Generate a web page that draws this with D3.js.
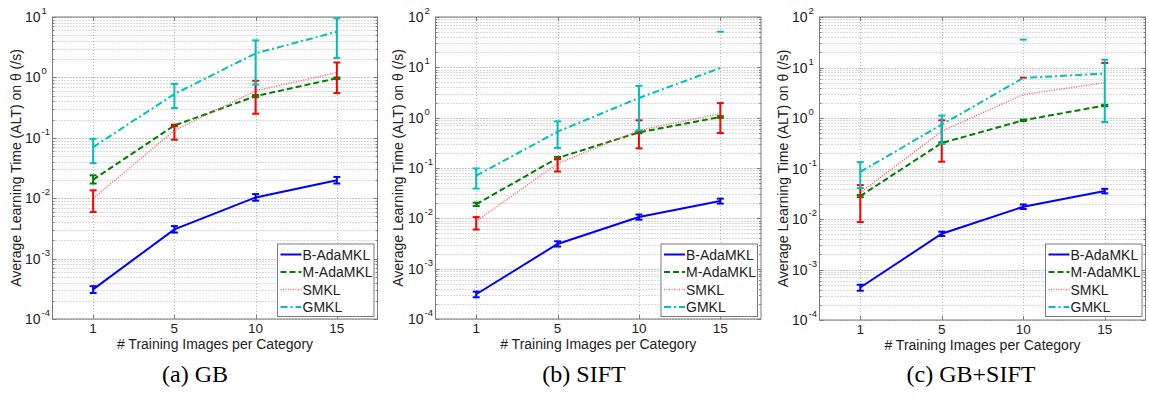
<!DOCTYPE html>
<html>
<head>
<meta charset="utf-8">
<script src="https://cdn.jsdelivr.net/npm/d3@7"></script>
<style>
  body { margin: 0; background: #fff; }
  svg text { font-family: "Liberation Sans", Arial, sans-serif; }
</style>
</head>
<body>
<div id="chart"></div>
<script>
//
// Average learning time per method, three feature sets
//
const categories = [1, 5, 10, 15]
const seriesNames = ["B-AdaMKL", "M-AdaMKL", "SMKL", "GMKL"]
const captions = ["(a) GB", "(b) SIFT", "(c) GB+SIFT"]

// (a) GB
const gbB = [3.1e-4, 3.05e-3, 0.0103, 0.0198]
const gbBLo = [2.7e-4, 2.7e-3, 0.0091, 0.0175]
const gbBHi = [3.5e-4, 3.45e-3, 0.0117, 0.0225]
const gbM = [0.0203, 0.16, 0.49, 0.97]
const gbMLo = [0.0175, 0.155, 0.47, 0.94]
const gbMHi = [0.0239, 0.165, 0.51, 1.0]
const gbS = [0.0099, 0.132, 0.6, 1.2]
const gbSLo = [0.0059, 0.093, 0.25, 0.55]
const gbSHi = [0.0135, 0.16, 0.88, 1.77]
const gbG = [0.07, 0.53, 2.5, 5.7]
const gbGLo = [0.038, 0.31, 0.76, 2.1]
const gbGHi = [0.096, 0.78, 4.1, 9.5]

// (b) SIFT
const siftB = [3.1e-4, 3.1e-3, 0.0106, 0.022]
const siftBLo = [2.7e-4, 2.75e-3, 0.0094, 0.0196]
const siftBHi = [3.5e-4, 3.5e-3, 0.0119, 0.0246]
const siftM = [0.019, 0.158, 0.51, 1.03]
const siftMLo = [0.0175, 0.15, 0.49, 0.99]
const siftMHi = [0.0205, 0.166, 0.53, 1.07]
const siftS = [0.0088, 0.122, 0.56, 1.2]
const siftSLo = [0.006, 0.085, 0.246, 0.495]
const siftSHi = [0.0106, 0.152, 0.885, 1.95]
const siftG = [0.0705, 0.527, 2.46, 9.7]
const siftGLo = [0.039, 0.25, 0.56, null]
const siftGHi = [0.098, 0.845, 4.3, 51]

// (c) GB+SIFT
const bothB = [4.4e-4, 5.1e-3, 0.0175, 0.0357]
const bothBLo = [3.8e-4, 4.6e-3, 0.0158, 0.0322]
const bothBHi = [5.0e-4, 5.6e-3, 0.0194, 0.0396]
const bothM = [0.0284, 0.32, 0.9, 1.77]
const bothMLo = [0.027, 0.31, 0.87, 1.71]
const bothMHi = [0.0298, 0.33, 0.93, 1.83]
const bothS = [0.033, 0.55, 2.9, 5.0]
const bothSLo = [0.0087, 0.136, null, null]
const bothSHi = [0.047, 0.9, 6.3, 12.3]
const bothG = [0.086, 0.74, 6.2, 7.6]
const bothGLo = [0.041, 0.31, null, 0.83]
const bothGHi = [0.134, 1.12, 35.6, 14.3]

// series styles (MATLAB-ish)
const styles = [
  { color: "#0000ff", line: "#0000ff", width: 2, dash: null },
  { color: "#008000", line: "#008000", width: 2, dash: "6,3" },
  { color: "#ff0000", line: "#ff6060", width: 1.5, dash: "1,1.5" },
  { color: "#00bfbf", line: "#00bfbf", width: 2, dash: "7,3,2,3" }
]

const panels = [
  { rect: [52.5, 17, 377.5, 319], yTop: 1e1, labelX: 16, capX: 195,
    series: [[gbB, gbBLo, gbBHi], [gbM, gbMLo, gbMHi], [gbS, gbSLo, gbSHi], [gbG, gbGLo, gbGHi]] },
  { rect: [435.5, 17, 761, 319], yTop: 1e2, labelX: 398, capX: 584,
    series: [[siftB, siftBLo, siftBHi], [siftM, siftMLo, siftMHi], [siftS, siftSLo, siftSHi], [siftG, siftGLo, siftGHi]] },
  { rect: [819.5, 17, 1145.5, 320], yTop: 1e2, labelX: 783, capX: 971,
    series: [[bothB, bothBLo, bothBHi], [bothM, bothMLo, bothMHi], [bothS, bothSLo, bothSHi], [bothG, bothGLo, bothGHi]] }
]

const W = 1149, H = 398
const frameColor = "#7a7a7a"
const fs = 14

let svg = d3.select("#chart")
  .append("svg")
    .attr("width", W)
    .attr("height", H)

panels.forEach(function(p, pi) {
  const [x0, y0, x1, y1] = p.rect
  let x = d3.scalePoint()
    .domain(categories)
    .range([x0, x1])
    .padding(0.5)
  let y = d3.scaleLog()
    .domain([1e-4, p.yTop])
    .range([y1, y0])

  let g = svg.append("g")

  // grid
  const yt = y.ticks()
  yt.forEach(function(v) {
    const major = Math.abs(Math.log10(v) - Math.round(Math.log10(v))) < 1e-9
    g.append("line")
      .attr("x1", x0).attr("x2", x1)
      .attr("y1", Math.round(y(v)) + 0.5).attr("y2", Math.round(y(v)) + 0.5)
      .attr("stroke", major ? "#8c8c8c" : "#b4b4b4")
      .attr("stroke-width", 1)
      .attr("stroke-dasharray", "1,2")
  })
  categories.forEach(function(c) {
    g.append("line")
      .attr("x1", Math.round(x(c)) + 0.5).attr("x2", Math.round(x(c)) + 0.5)
      .attr("y1", y0).attr("y2", y1)
      .attr("stroke", "#b4b4b4")
      .attr("stroke-dasharray", "1,2")
  })

  // ticks (inside, box on)
  yt.forEach(function(v) {
    const major = Math.abs(Math.log10(v) - Math.round(Math.log10(v))) < 1e-9
    const len = major ? 4 : 2
    const yy = Math.round(y(v)) + 0.5
    g.append("line").attr("x1", x0).attr("x2", x0 + len).attr("y1", yy).attr("y2", yy)
      .attr("stroke", frameColor)
    g.append("line").attr("x1", x1).attr("x2", x1 - len).attr("y1", yy).attr("y2", yy)
      .attr("stroke", frameColor)
    if (major) {
      g.append("text")
        .attr("x", x0 - 12)
        .attr("y", y(v) + 5)
        .attr("text-anchor", "end")
        .attr("font-size", fs)
        .attr("fill", "#222")
        .text("10")
      g.append("text")
        .attr("x", x0 - 11)
        .attr("y", y(v) - 3)
        .attr("font-size", 9.5)
        .attr("fill", "#222")
        .text(Math.round(Math.log10(v)))
    }
  })
  categories.forEach(function(c) {
    const xx = Math.round(x(c)) + 0.5
    g.append("line").attr("x1", xx).attr("x2", xx).attr("y1", y1).attr("y2", y1 - 4)
      .attr("stroke", frameColor)
    g.append("line").attr("x1", xx).attr("x2", xx).attr("y1", y0).attr("y2", y0 + 4)
      .attr("stroke", frameColor)
    g.append("text")
      .attr("x", x(c))
      .attr("y", y1 + 13.5)
      .attr("text-anchor", "middle")
      .attr("font-size", 13.5)
      .attr("fill", "#222")
      .text(c)
  })

  // frame
  g.append("rect")
    .attr("x", x0).attr("y", y0)
    .attr("width", x1 - x0).attr("height", y1 - y0)
    .attr("fill", "none")
    .attr("stroke", frameColor)

  // axis labels
  g.append("text")
    .attr("x", (x0 + x1) / 2)
    .attr("y", y1 + 29.5)
    .attr("text-anchor", "middle")
    .attr("font-size", fs)
    .attr("fill", "#222")
    .text("# Training Images per Category")
  g.append("text")
    .attr("transform", "translate(" + (p.labelX + 5) + "," + ((y0 + y1) / 2) + ") rotate(-90)")
    .attr("text-anchor", "middle")
    .attr("font-size", fs)
    .attr("fill", "#222")
    .text("Average Learning Time (ALT) on \u03b8 (/s)")

  // series
  let plot = g.append("g")
  p.series.forEach(function(s, si) {
    const st = styles[si]
    const [vals, lo, hi] = s
    const pts = categories.map(function(c, i) { return [x(c), y(vals[i])] })
    plot.append("path")
      .attr("d", d3.line()(pts))
      .attr("fill", "none")
      .attr("stroke", st.line)
      .attr("stroke-width", st.width)
      .attr("stroke-dasharray", st.dash)
    categories.forEach(function(c, i) {
      const cx = x(c)
      const capW = 3.5
      if (lo[i] != null && hi[i] != null) {
        plot.append("line")
          .attr("x1", cx).attr("x2", cx)
          .attr("y1", y(lo[i])).attr("y2", y(hi[i]))
          .attr("stroke", st.color).attr("stroke-width", 2)
      }
      ;[lo[i], hi[i]].forEach(function(v) {
        if (v == null) return
        plot.append("line")
          .attr("x1", cx - capW).attr("x2", cx + capW)
          .attr("y1", y(v)).attr("y2", y(v))
          .attr("stroke", st.color).attr("stroke-width", 2)
      })
    })
  })

  // legend
  const lx0 = x1 - 100, ly0 = 244, lx1 = x1 - 3.5, ly1 = 316.5
  let leg = g.append("g")
  leg.append("rect")
    .attr("x", lx0).attr("y", ly0)
    .attr("width", lx1 - lx0).attr("height", ly1 - ly0)
    .attr("fill", "#fff")
    .attr("stroke", frameColor)
  seriesNames.forEach(function(name, si) {
    const st = styles[si]
    const ly = ly0 + 10.5 + si * 17.5
    leg.append("line")
      .attr("x1", lx0 + 3).attr("x2", lx0 + 24)
      .attr("y1", ly).attr("y2", ly)
      .attr("stroke", st.line)
      .attr("stroke-width", st.width)
      .attr("stroke-dasharray", st.dash)
    leg.append("text")
      .attr("x", lx0 + 25)
      .attr("y", ly + 5)
      .attr("font-size", fs)
      .attr("fill", "#222")
      .text(name)
  })

  // caption
  svg.append("text")
    .attr("x", p.capX)
    .attr("y", 382)
    .attr("text-anchor", "middle")
    .style("font-family", "'Liberation Serif', 'Times New Roman', serif")
    .attr("font-size", 24)
    .attr("fill", "#000")
    .text(captions[pi])
})
</script>
</body>
</html>
